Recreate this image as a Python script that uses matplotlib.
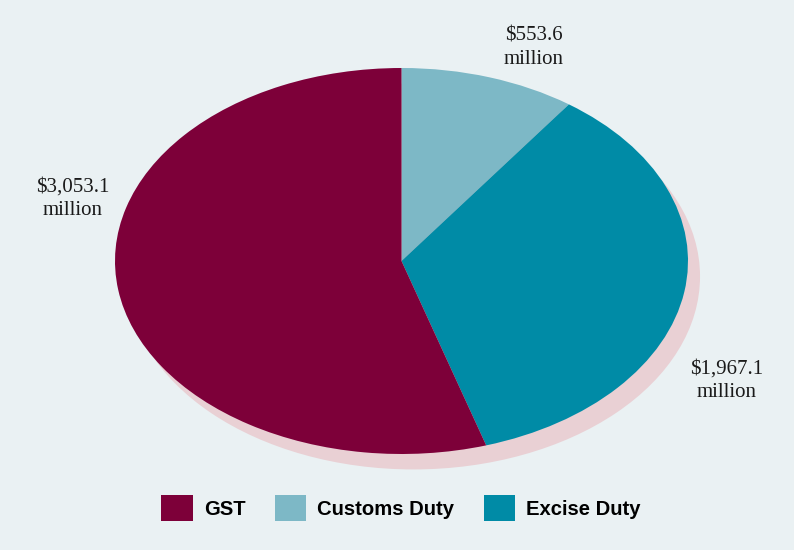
import matplotlib.pyplot as plt
from matplotlib.patches import Ellipse

# Revenue breakdown ($ million)
categories = ['Customs Duty', 'Excise Duty', 'GST']
values = [553.6, 1967.1, 3053.1]
colors = ['#7DB8C6', '#008BA6', '#7D0039']
value_labels = ['$553.6\nmillion', '$1,967.1\nmillion', '$3,053.1\nmillion']
legend_order = ['GST', 'Customs Duty', 'Excise Duty']

bg = '#EAF1F3'
fig = plt.figure(figsize=(7.94, 5.5), dpi=100, facecolor=bg)

# axes spans the pie's bounding box so the unit circle becomes an ellipse
ax = fig.add_axes([115 / 794, 96 / 550, 573 / 794, 386 / 550])
ax.set_facecolor('none')

# drop shadow
shadow = Ellipse((0.042, -0.08), 2.0, 2.0, facecolor='#E9D0D4',
                 edgecolor='none', zorder=0, clip_on=False)
ax.add_patch(shadow)

wedges, _ = ax.pie(values, colors=colors, startangle=90, counterclock=False,
                   radius=1.0, wedgeprops=dict(linewidth=0))
for w in wedges:
    w.set_zorder(2)
    w.set_clip_on(False)

ax.set_aspect('auto')
ax.set_xlim(-1, 1)
ax.set_ylim(-1, 1)
ax.axis('off')

# value labels (figure pixel positions)
label_pos = [(534, 48), (727, 381), (73, 199)]
for txt, (x, y) in zip(value_labels, label_pos):
    fig.text(x / 794, 1 - y / 550, txt, ha='center', va='center',
             fontsize=15, family='Liberation Serif', color='#1a1a1a',
             linespacing=1.3)

# legend
lookup = dict(zip(categories, wedges))
handles = [lookup[c] for c in legend_order]
leg = fig.legend(handles, legend_order, loc='center', bbox_to_anchor=(401 / 794, 1 - 508 / 550),
                 ncol=3, frameon=False, handlelength=1.55, handleheight=1.55,
                 handletextpad=0.55, columnspacing=1.45,
                 prop=dict(family='Liberation Sans', weight='bold', size=14.6))

fig.savefig('out.png', dpi=100, facecolor=bg)
